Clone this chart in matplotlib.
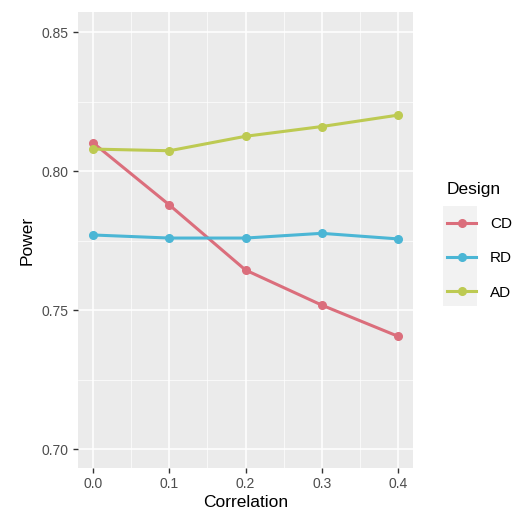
import matplotlib
matplotlib.use("Agg")
import matplotlib.pyplot as plt
from matplotlib.lines import Line2D
from matplotlib.patches import Rectangle

plt.rcParams["font.family"] = ["Liberation Sans", "DejaVu Sans"]

correlation = [0.0, 0.1, 0.2, 0.3, 0.4]
designs = ["CD", "RD", "AD"]
power_cd = [0.8101, 0.7878, 0.7644, 0.7518, 0.7406]
power_rd = [0.7770, 0.7759, 0.7759, 0.7776, 0.7756]
power_ad = [0.8079, 0.8073, 0.8125, 0.8160, 0.8201]
colors = ["#DB6E7C", "#4BB6D5", "#BDCA52"]

W, H = 513, 521
fig = plt.figure(figsize=(W / 100, H / 100), dpi=100)
ax = fig.add_axes([78 / W, (H - 468) / H, (413 - 78) / W, (468 - 12) / H])
ax.set_facecolor("#EBEBEB")

for series, color in zip([power_cd, power_rd, power_ad], colors):
    ax.plot(correlation, series, color=color, lw=2.2, marker="o", ms=5.5, zorder=3)

ax.set_xlim(-0.02, 0.42)
ax.set_ylim(0.6932, 0.8572)
ax.set_xticks(correlation)
ax.set_xticklabels(["0.0", "0.1", "0.2", "0.3", "0.4"])
ax.set_yticks([0.70, 0.75, 0.80, 0.85])
ax.set_yticklabels(["0.70", "0.75", "0.80", "0.85"])
ax.set_xticks([0.05, 0.15, 0.25, 0.35], minor=True)
ax.set_yticks([0.725, 0.775, 0.825], minor=True)
ax.grid(which="major", color="white", lw=1.1)
ax.grid(which="minor", color="white", lw=0.5)
ax.set_axisbelow(True)
for s in ax.spines.values():
    s.set_visible(False)
ax.tick_params(which="major", length=3.5, width=1, color="#333333",
               labelsize=10, labelcolor="#4D4D4D", pad=3)
ax.tick_params(which="minor", length=0)
ax.set_xlabel("Correlation", fontsize=12.5, labelpad=3)
ax.set_ylabel("Power", fontsize=12.5, labelpad=5)

# grey background behind the legend keys
fig.patches.append(Rectangle((443 / W, 1 - 306 / H), 34 / W, 100 / H,
                             transform=fig.transFigure, facecolor="#F2F2F2",
                             edgecolor="none", zorder=0))

handles = [Line2D([], [], color=c, lw=2.2, marker="o", ms=5.5) for c in colors]
leg = fig.legend(handles, designs, title="Design", loc="upper left",
                 bbox_to_anchor=(441 / W, 1 - 176 / H), frameon=False,
                 fontsize=11, title_fontsize=12.5, handlelength=1.9,
                 labelspacing=1.32, handletextpad=0.9, borderaxespad=0)
leg._legend_box.align = "left"

fig.savefig("out.png", dpi=100)
